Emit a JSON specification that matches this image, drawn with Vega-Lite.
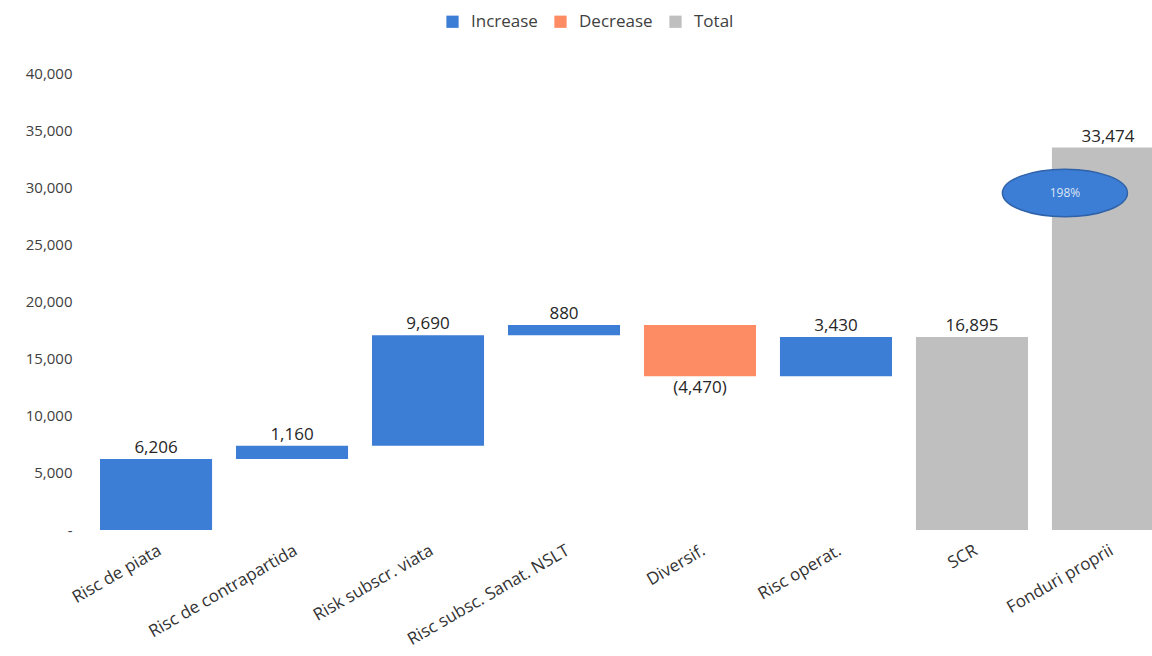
{
  "$schema": "https://vega.github.io/schema/vega-lite/v6.json",
  "width": 1064,
  "height": 457,
  "autosize": {"type": "none"},
  "padding": {"left": 88, "top": 73, "right": 0, "bottom": 126},
  "background": "white",
  "config": {
    "font": "Open Sans",
    "view": {"stroke": null}
  },
  "data": {
    "values": [
      {"cat": "Risc de piata", "start": 0, "end": 6206, "type": "Increase", "label": "6,206"},
      {"cat": "Risc de contrapartida", "start": 6206, "end": 7366, "type": "Increase", "label": "1,160"},
      {"cat": "Risk subscr. viata", "start": 7366, "end": 17056, "type": "Increase", "label": "9,690"},
      {"cat": "Risc subsc. Sanat. NSLT", "start": 17056, "end": 17936, "type": "Increase", "label": "880"},
      {"cat": "Diversif.", "start": 17936, "end": 13466, "type": "Decrease", "label": "(4,470)"},
      {"cat": "Risc operat.", "start": 13466, "end": 16895, "type": "Increase", "label": "3,430"},
      {"cat": "SCR", "start": 0, "end": 16895, "type": "Total", "label": "16,895"},
      {"cat": "Fonduri proprii", "start": 0, "end": 33474, "type": "Total", "label": "33,474"}
    ]
  },
  "encoding": {
    "x": {
      "field": "cat",
      "type": "nominal",
      "sort": null,
      "scale": {"range": [12, 1076], "paddingInner": 0.176, "paddingOuter": 0},
      "axis": {
        "title": null,
        "domain": false,
        "ticks": false,
        "labelAngle": -30,
        "labelAlign": "right",
        "labelBaseline": "top",
        "labelPadding": 12,
        "labelLimit": 400,
        "labelFontSize": 17,
        "labelColor": "#333333",
        "labelFont": "Open Sans"
      }
    }
  },
  "layer": [
    {
      "mark": {"type": "bar"},
      "encoding": {
        "y": {
          "field": "start",
          "type": "quantitative",
          "scale": {"domain": [0, 40000], "nice": false},
          "axis": {
            "title": null,
            "domain": false,
            "ticks": false,
            "grid": false,
            "values": [0, 5000, 10000, 15000, 20000, 25000, 30000, 35000, 40000],
            "labelExpr": "datum.value == 0 ? '-' : format(datum.value, ',')",
            "labelPadding": 16,
            "labelFontSize": 15,
            "labelColor": "#404040",
            "labelFont": "Open Sans"
          }
        },
        "y2": {"field": "end"},
        "color": {
          "field": "type",
          "type": "nominal",
          "scale": {"domain": ["Increase", "Decrease", "Total"], "range": ["#3C7DD6", "#FD8B63", "#BFBFBF"]},
          "legend": {
            "title": null,
            "orient": "none",
            "direction": "horizontal",
            "legendX": 356,
            "legendY": -60,
            "symbolType": "square",
            "symbolSize": 150,
            "symbolStrokeWidth": 0,
            "labelFontSize": 17,
            "labelColor": "#404040",
            "labelFont": "Open Sans",
            "labelOffset": 10,
            "columnPadding": 14
          }
        }
      }
    },
    {
      "transform": [{"filter": "datum.type != 'Decrease'"}],
      "mark": {"type": "text", "baseline": "alphabetic", "dy": -6, "fontSize": 17, "color": "#262626", "font": "Open Sans"},
      "encoding": {
        "y": {"field": "end", "type": "quantitative"},
        "text": {"field": "label"}
      }
    },
    {
      "transform": [{"filter": "datum.type == 'Decrease'"}],
      "mark": {"type": "text", "baseline": "top", "dy": 4, "fontSize": 17, "color": "#262626", "font": "Open Sans"},
      "encoding": {
        "y": {"field": "end", "type": "quantitative"},
        "text": {"field": "label"}
      }
    },
    {
      "data": {"values": [{"cat": "Fonduri proprii", "ratio": 29500, "txt": "198%"}]},
      "mark": {
        "type": "point",
        "shape": "M -1 0 A 1 0.38 0 1 0 1 0 A 1 0.38 0 1 0 -1 0 Z",
        "size": 15625,
        "filled": true,
        "fill": "#3C7DD6",
        "stroke": "#2F62A8",
        "strokeWidth": 1.5,
        "opacity": 1
      },
      "encoding": {
        "xOffset": {"value": 13},
        "y": {"field": "ratio", "type": "quantitative"}
      }
    },
    {
      "data": {"values": [{"cat": "Fonduri proprii", "ratio": 29500, "txt": "198%"}]},
      "mark": {"type": "text", "dx": -43, "fontSize": 12, "color": "#DCE6F4", "font": "Open Sans", "baseline": "middle"},
      "encoding": {
        "y": {"field": "ratio", "type": "quantitative"},
        "text": {"field": "txt"}
      }
    }
  ]
}
